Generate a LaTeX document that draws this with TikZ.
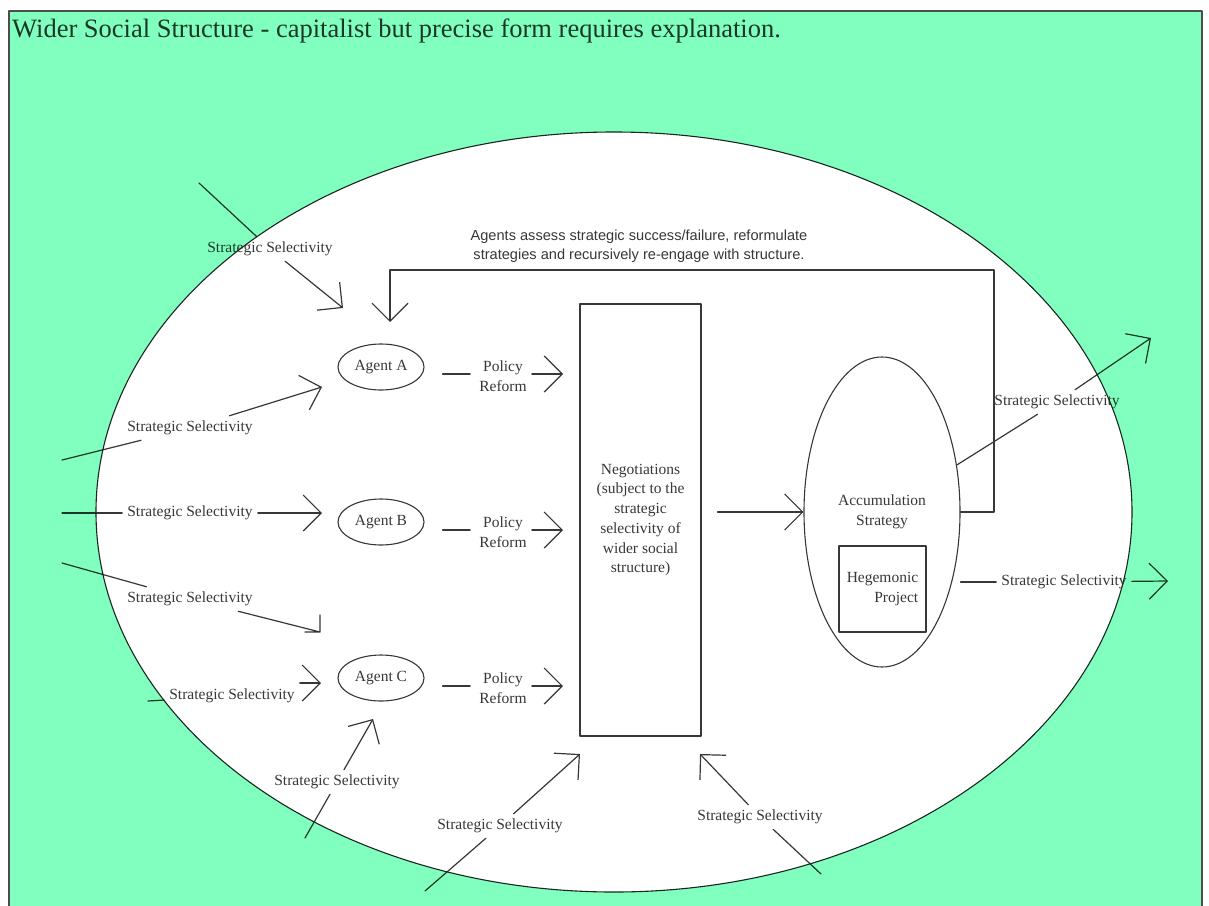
\documentclass[tikz,border=0pt]{standalone}
\usepackage{fontspec}
\setmainfont{Liberation Serif}
\newfontfamily\notefont{Liberation Sans}
\usetikzlibrary{arrows.meta,shapes.geometric}
\definecolor{wssgreen}{RGB}{128,255,190}
\definecolor{ink}{RGB}{55,55,55}
\tikzset{
  sel/.style={font=\fontsize{15.5}{20}\selectfont,text=ink,inner sep=5pt},
  agent/.style={draw=ink,ellipse,minimum width=86pt,minimum height=46pt,inner sep=0pt,font=\fontsize{15.5}{20}\selectfont,text=ink,line width=1.1pt},
  box/.style={draw=ink,rectangle,inner sep=0pt,font=\fontsize{15.5}{19.7}\selectfont,text=ink,line width=1.1pt},
  conn/.style={draw=ink,line width=1.2pt}
}
\begin{document}
\begin{tikzpicture}[line cap=round,line join=round,>={Straight Barb[length=18pt,width=36pt]},x=1pt,y=-1pt]
  \useasboundingbox (0,0) rectangle (1209,905);
  \node[anchor=base west,font=\fontsize{26.5}{30}\selectfont,text=ink,inner sep=0pt] (title) at (12,37) {Wider Social Structure - capitalist but precise form requires explanation.};
  \node[agent] (agA) at (381,367) {Agent A};
  \node[agent] (agB) at (381,522) {Agent B};
  \node[agent] (agC) at (381,678) {Agent C};
  \node[sel,align=center] (prA) at (503,376) {Policy\\Reform};
  \node[sel,align=center] (prB) at (503,532) {Policy\\Reform};
  \node[sel,align=center] (prC) at (503,688) {Policy\\Reform};
  \coordinate (nA) at (563,374);
  \coordinate (nB) at (563,530);
  \coordinate (nC) at (563,686);
  \draw[conn,shorten <=18pt,shorten >=4pt] (agA.east |- nA) -- (prA.west |- nA);
  \draw[conn,shorten <=18pt,shorten >=4pt] (agB.east |- nB) -- (prB.west |- nB);
  \draw[conn,shorten <=18pt,shorten >=4pt] (agC.east |- nC) -- (prC.west |- nC);
  \draw[conn,->] (prA.east |- nA) -- (nA);
  \draw[conn,->] (prB.east |- nB) -- (nB);
  \draw[conn,->] (prC.east |- nC) -- (nC);
  \node[box,minimum width=121pt,minimum height=432pt,align=center] (neg) at (640.5,520) {Negotiations\\(subject to the\\strategic\\selectivity of\\wider social\\structure)};
  \node[agent,minimum width=156pt,minimum height=310pt,align=center] (accum) at (882,512) {Accumulation\\Strategy};
  \node[box,minimum width=87pt,minimum height=86pt,align=right] (hegem) at (882.5,589) {Hegemonic\\Project};
  \draw[conn,->,shorten <=16pt] (neg.east |- accum) -- (accum.west);
  \node[font=\notefont\fontsize{14.6}{19}\selectfont,text=ink,align=center] (fbnote) at (639,246) {Agents assess strategic success/failure, reformulate\\strategies and recursively re-engage with structure.};
  \coordinate (fbcorner) at (994,270);
  \coordinate (fbtip) at (390,322);
  \draw[conn,->] (accum.east) -| (fbcorner) -| (fbtip);
  \node[sel] (ss1) at (270,249) {Strategic Selectivity};
  \node[sel] (ss2) at (190,428) {Strategic Selectivity};
  \node[sel] (ss3) at (190,513) {Strategic Selectivity};
  \node[sel] (ss4) at (190,599) {Strategic Selectivity};
  \node[sel] (ss5) at (232,696) {Strategic Selectivity};
  \node[sel] (ss6) at (337,782) {Strategic Selectivity};
  \node[sel] (ss7) at (500,826) {Strategic Selectivity};
  \node[sel] (ss8) at (760,817) {Strategic Selectivity};
  \node[sel] (ss9) at (1057,402) {Strategic Selectivity};
  \node[sel] (ss10) at (1064,582) {Strategic Selectivity};
  \coordinate (s1) at (199,183);
  \coordinate (s2) at (62,460);
  \coordinate (s3) at (62,513);
  \coordinate (s4) at (62,563);
  \coordinate (s5) at (148,701);
  \coordinate (s6) at (305,838);
  \coordinate (s7) at (425,891);
  \coordinate (s8) at (821,874);
  \coordinate (t1) at (343,308);
  \coordinate (t2) at (322,387);
  \coordinate (t3) at (322,513);
  \coordinate (t4) at (320,632);
  \coordinate (t5) at (321,683);
  \coordinate (t6) at (373,719);
  \coordinate (t7) at (580,754);
  \coordinate (t8) at (700,754);
  \coordinate (t9) at (1151,338);
  \coordinate (t10) at (1168,581);
  \draw[conn] (s1) -- (ss1);
  \draw[conn] (s2) -- (ss2);
  \draw[conn] (s3) -- (ss3);
  \draw[conn] (s4) -- (ss4);
  \draw[conn] (s5) -- (ss5);
  \draw[conn] (s6) -- (ss6);
  \draw[conn] (s7) -- (ss7);
  \draw[conn] (s8) -- (ss8);
  \draw[conn] (accum) -- (ss9);
  \draw[conn] (accum.east |- ss10) -- (ss10);
  \draw[conn,->] (ss1) -- (t1);
  \draw[conn,->] (ss2) -- (t2);
  \draw[conn,->] (ss3) -- (t3);
  \draw[conn] (ss4) -- (t4) -- ++(0,-17) (t4) -- ++(-15,0);
  \draw[conn,->] (ss5.east |- t5) -- (t5);
  \draw[conn,->] (ss6) -- (t6);
  \draw[conn,->] (ss7) -- (t7);
  \draw[conn,->] (ss8) -- (t8);
  \draw[conn,->] (ss9) -- (t9);
  \draw[conn,->] (ss10) -- (t10);
  \draw[black!85,line width=1.1pt] (614,512) ellipse [x radius=518,y radius=380];
  \fill[wssgreen,blend mode=multiply,even odd rule] (9,11) rectangle (1202,920) (614,512) ellipse [x radius=518,y radius=380];
  \draw[black!70,line width=1.2pt] (9,11) rectangle (1202,920);
\end{tikzpicture}
\end{document}
